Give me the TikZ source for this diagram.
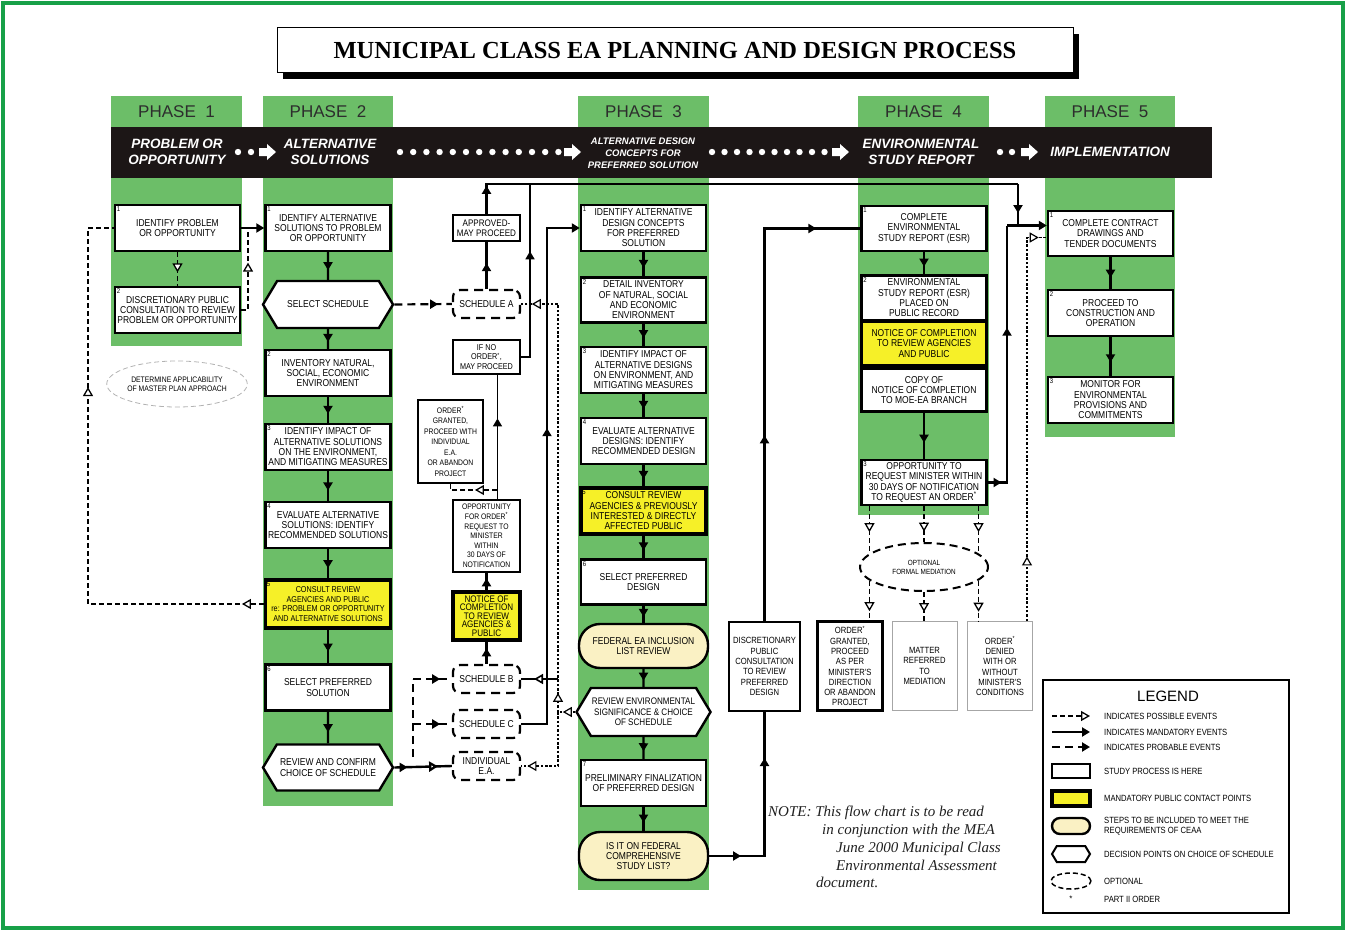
\documentclass[tikz,border=0pt]{standalone}
\usepackage{fontspec}
\setmainfont{Liberation Sans}
\newfontfamily\nfont[FakeStretch=0.85]{Liberation Sans}
\newfontfamily\titleserif{Liberation Serif}
\usepackage{tikz}
\usetikzlibrary{arrows.meta,positioning,calc,decorations.markings,shapes.geometric,shapes.symbols}
\definecolor{phasegreen}{RGB}{108,190,104}
\definecolor{framegreen}{RGB}{24,160,72}
\definecolor{barblack}{RGB}{28,22,22}
\definecolor{mandyellow}{RGB}{246,240,40}
\definecolor{ceaacream}{RGB}{250,241,196}
\definecolor{headgray}{RGB}{45,45,45}
\newcommand{\stepfont}{\nfont\fontsize{10}{10.3}\selectfont}
\newcommand{\smallfont}{\nfont\fontsize{8.5}{9.6}\selectfont}
\newcommand{\tallfont}{\nfont\fontsize{9}{10.3}\selectfont}
\newcommand{\barfont}{\bfseries\itshape\fontsize{13.5}{15.5}\selectfont}
\tikzset{
  stepbox/.style={rectangle,draw=black,fill=white,line width=2.4pt,minimum width=125pt,minimum height=46pt,inner sep=1pt,align=center,font=\stepfont},
  mandbox/.style={stepbox,fill=mandyellow,line width=3.2pt},
  ceaabox/.style={stepbox,fill=ceaacream,rounded corners=21pt,minimum width=129pt},
  decision/.style={shape=signal,signal to=west and east,signal pointer angle=118,draw=black,fill=white,line width=2.4pt,minimum width=130pt,minimum height=47pt,inner sep=1pt,align=center,font=\stepfont},
  smallbox/.style={rectangle,draw=black,fill=white,line width=2.2pt,minimum width=67pt,inner sep=1pt,align=center,font=\smallfont},
  sched/.style={rectangle,draw=black,fill=white,line width=2.2pt,dash pattern=on 9pt off 6pt,rounded corners=7pt,minimum width=67pt,minimum height=28pt,inner sep=1pt,align=center,font=\stepfont},
  tallbox/.style={rectangle,draw=black,fill=white,line width=2.4pt,minimum width=65pt,minimum height=89pt,inner sep=1pt,align=center,font=\tallfont},
  optel/.style={ellipse,draw=black,line width=2pt,dash pattern=on 8pt off 5pt,minimum width=128pt,minimum height=48pt,inner sep=0pt,align=center,font=\nfont\fontsize{7.5}{9}\selectfont},
  planel/.style={ellipse,draw=gray!60,line width=.8pt,dash pattern=on 5pt off 3pt,minimum width=126pt,minimum height=46pt,inner sep=0pt,align=center,font=\nfont\fontsize{8}{9.5}\selectfont},
  stepno/.style={anchor=north west,inner sep=2.8pt,font=\nfont\fontsize{7}{7}\selectfont},
  phasehead/.style={font=\fontsize{17}{17}\selectfont,text=headgray},
  bartext/.style={text=white,font=\barfont,align=center,inner sep=0pt},
  legtext/.style={anchor=west,inner sep=0pt,align=left,font=\nfont\fontsize{9}{10}\selectfont},
  mand/.style={draw=black,line width=2.4pt},
  thinmand/.style={draw=black,line width=1.6pt},
  poss/.style={draw=black,line width=1.3pt,dash pattern=on 5pt off 3pt},
  prob/.style={draw=black,line width=2.2pt,dash pattern=on 8pt off 5pt},
  dotl/.style={draw=black,line width=1.2pt,dash pattern=on 2.5pt off 1.8pt},
  fa/.style={postaction={solid,decorate,decoration={markings,mark=at position #1 with {\arrow{Triangle[length=8pt,width=9pt]}}}}},
  oa/.style={postaction={solid,decorate,decoration={markings,mark=at position #1 with {\arrow{Triangle[open,fill=white,length=9pt,width=10pt]}}}}},
  >={Triangle[length=8pt,width=9pt]}
}
\begin{document}
\begin{tikzpicture}[x=1pt,y=-1pt]
  \useasboundingbox (0,0) rectangle (1346,931);
  \draw[framegreen,line width=4pt] (3,3) rectangle (1343,928);

  % title
  \fill[black] (283,34) rectangle (1079,79);
  \node[draw=black,line width=1pt,fill=white,minimum width=796pt,minimum height=45pt,
        font=\titleserif\bfseries\fontsize{24.5}{25}\selectfont] (title) at (675,50.5)
        {MUNICIPAL CLASS EA PLANNING AND DESIGN PROCESS};

  % phase columns and bar
  \foreach \xa/\xb/\yb [count=\i] in {111/242/346,263/393/806,578/709/890,858/989/515,1045/1175/437}{
    \fill[phasegreen] (\xa,96) rectangle (\xb,\yb);
    \node[phasehead] (ph\i) at ({(\xa+\xb)/2},111.5) {PHASE\ \ \i};
  }
  \fill[barblack] (111,127) rectangle (1212,178);
  \node[bartext] (bar1) at (177,152) {PROBLEM OR\\OPPORTUNITY};
  \node[bartext] (bar2) at (330,152) {ALTERNATIVE\\SOLUTIONS};
  \node[bartext,font=\bfseries\itshape\fontsize{9.5}{12}\selectfont] (bar3) at (643,153)
    {ALTERNATIVE DESIGN\\CONCEPTS FOR\\PREFERRED SOLUTION};
  \node[bartext] (bar4) at (921,152) {ENVIRONMENTAL\\STUDY REPORT};
  \node[bartext] (bar5) at (1110,152) {IMPLEMENTATION};
  \foreach \x in {238,251,1000,1012} \fill[white] (\x,152) circle (3.2pt);
  \foreach \i in {0,...,12} \fill[white] (400+13.2*\i,152) circle (3.2pt);
  \foreach \i in {0,...,9} \fill[white] (712+12.5*\i,152) circle (3.2pt);
  \foreach \x in {259,564,832,1021}
    \fill[white] (\x,148) -- ++(8,0) -- ++(0,-4) -- ++(9,8) -- ++(-9,8) -- ++(0,-4) -- ++(-8,0) -- cycle;

  % phase 1
  \node[stepbox,label={[stepno]north west:1}] (idprob) at (177.5,228) {IDENTIFY PROBLEM\\OR OPPORTUNITY};
  \node[stepbox,label={[stepno]north west:2}] (discpub) at (177.5,310) {DISCRETIONARY PUBLIC\\CONSULTATION TO REVIEW\\PROBLEM OR OPPORTUNITY};
  \node[planel] (masterplan) at (177,384) {DETERMINE APPLICABILITY\\OF MASTER PLAN APPROACH};

  % phase 2
  \node[stepbox,label={[stepno]north west:1}] (idalt) at (328,228) {IDENTIFY ALTERNATIVE\\SOLUTIONS TO PROBLEM\\OR OPPORTUNITY};
  \node[decision] (selsched) at (328,304.5) {SELECT SCHEDULE};
  \node[stepbox,label={[stepno]north west:2}] (inventory) at (328,373) {INVENTORY NATURAL,\\SOCIAL, ECONOMIC\\ENVIRONMENT};
  \node[stepbox,label={[stepno]north west:3}] (impact) at (328,447) {IDENTIFY IMPACT OF\\ALTERNATIVE SOLUTIONS\\ON THE ENVIRONMENT,\\AND MITIGATING MEASURES};
  \node[stepbox,label={[stepno]north west:4}] (evalsol) at (328,525) {EVALUATE ALTERNATIVE\\SOLUTIONS: IDENTIFY\\RECOMMENDED SOLUTIONS};
  \node[mandbox,minimum height=48pt,font=\smallfont,label={[stepno]north west:5}] (consult) at (328,604)
    {CONSULT REVIEW\\AGENCIES AND PUBLIC\\re: PROBLEM OR OPPORTUNITY\\AND ALTERNATIVE SOLUTIONS};
  \node[stepbox,label={[stepno]north west:6}] (prefsol) at (328,687.5) {SELECT PREFERRED\\SOLUTION};
  \node[decision,minimum height=46pt] (confirm) at (328,767.5) {REVIEW AND CONFIRM\\CHOICE OF SCHEDULE};

  % schedules
  \node[smallbox,minimum height=26pt,font=\nfont\fontsize{9.5}{10}\selectfont] (approved) at (486.5,228) {APPROVED-\\MAY PROCEED};
  \node[sched] (schedA) at (486.5,304) {SCHEDULE A};
  \node[smallbox,minimum height=34pt] (ifno) at (486.5,357) {IF NO\\ORDER\textsuperscript{*},\\MAY PROCEED};
  \node[smallbox,minimum width=65pt,minimum height=83pt,font=\nfont\fontsize{8}{10.5}\selectfont] (ordergr) at (450.5,441.5)
    {ORDER\textsuperscript{*}\\GRANTED,\\PROCEED WITH\\INDIVIDUAL\\E.A.\\OR ABANDON\\PROJECT};
  \node[smallbox,minimum height=72pt,font=\nfont\fontsize{8}{9.6}\selectfont] (opport) at (486.5,536)
    {OPPORTUNITY\\FOR ORDER\textsuperscript{*}\\REQUEST TO\\MINISTER\\WITHIN\\30 DAYS OF\\NOTIFICATION};
  \node[mandbox,minimum width=67pt,minimum height=48pt,font=\nfont\fontsize{9.5}{8.6}\selectfont] (notice) at (486.5,616)
    {NOTICE OF\\COMPLETION\\TO REVIEW\\AGENCIES \&\\PUBLIC};
  \node[sched] (schedB) at (486.5,679) {SCHEDULE B};
  \node[sched] (schedC) at (486.5,724) {SCHEDULE C};
  \node[sched] (indiv) at (486.5,766) {INDIVIDUAL\\E.A.};

  % phase 3
  \node[stepbox,label={[stepno]north west:1}] (idcon) at (643.5,228) {IDENTIFY ALTERNATIVE\\DESIGN CONCEPTS\\FOR PREFERRED\\SOLUTION};
  \node[stepbox,minimum height=45pt,label={[stepno]north west:2}] (detinv) at (643.5,300) {DETAIL INVENTORY\\OF NATURAL, SOCIAL\\AND ECONOMIC\\ENVIRONMENT};
  \node[stepbox,label={[stepno]north west:3}] (impdes) at (643.5,370) {IDENTIFY IMPACT OF\\ALTERNATIVE DESIGNS\\ON ENVIRONMENT, AND\\MITIGATING MEASURES};
  \node[stepbox,label={[stepno]north west:4}] (evaldes) at (643.5,441) {EVALUATE ALTERNATIVE\\DESIGNS: IDENTIFY\\RECOMMENDED DESIGN};
  \node[mandbox,label={[stepno]north west:5}] (consdes) at (643.5,511) {CONSULT REVIEW\\AGENCIES \& PREVIOUSLY\\INTERESTED \& DIRECTLY\\AFFECTED PUBLIC};
  \node[stepbox,minimum height=45pt,label={[stepno]north west:6}] (prefdes) at (643.5,582) {SELECT PREFERRED\\DESIGN};
  \node[ceaabox,minimum height=44pt] (fedlist) at (643.5,646) {FEDERAL EA INCLUSION\\LIST REVIEW};
  \node[decision,minimum width=134pt,minimum height=48pt,font=\nfont\fontsize{9.5}{10.3}\selectfont] (revsig) at (643.5,712) {REVIEW ENVIRONMENTAL\\SIGNIFICANCE \& CHOICE\\OF SCHEDULE};
  \node[stepbox,label={[stepno]north west:7}] (prelim) at (643.5,783) {PRELIMINARY FINALIZATION\\OF PREFERRED DESIGN};
  \node[ceaabox,minimum height=48pt] (fedstudy) at (643.5,856) {IS IT ON FEDERAL\\COMPREHENSIVE\\STUDY LIST?};
  \node[tallbox,minimum width=71pt] (discr) at (764.5,666.5) {DISCRETIONARY\\PUBLIC\\CONSULTATION\\TO REVIEW\\PREFERRED\\DESIGN};

  % phase 4
  \node[stepbox,minimum height=45pt,label={[stepno]north west:1}] (esr) at (924,228.5) {COMPLETE\\ENVIRONMENTAL\\STUDY REPORT (ESR)};
  \node[stepbox,minimum height=45pt,label={[stepno]north west:2}] (esrpub) at (924,298) {ENVIRONMENTAL\\STUDY REPORT (ESR)\\PLACED ON\\PUBLIC RECORD};
  \node[mandbox,minimum height=45pt] (notice4) at (924,343.5) {NOTICE OF COMPLETION\\TO REVIEW AGENCIES\\AND PUBLIC};
  \node[stepbox,minimum height=43pt] (copy) at (924,390) {COPY OF\\NOTICE OF COMPLETION\\TO MOE-EA BRANCH};
  \node[stepbox,minimum height=45pt,label={[stepno]north west:3}] (opp4) at (924,482.5)
    {OPPORTUNITY TO\\REQUEST MINISTER WITHIN\\30 DAYS OF NOTIFICATION\\TO REQUEST AN ORDER\textsuperscript{*}};
  \node[optel] (med) at (924,567) {OPTIONAL\\FORMAL MEDIATION};
  \node[tallbox] (ordergr4) at (850,666) {ORDER\textsuperscript{*}\\GRANTED,\\PROCEED\\AS PER\\MINISTER'S\\DIRECTION\\OR ABANDON\\PROJECT};
  \node[tallbox,draw=gray!70,line width=1pt] (matter) at (924.5,666) {MATTER\\REFERRED\\TO\\MEDIATION};
  \node[tallbox,draw=gray!70,line width=1pt] (denied) at (1000,666) {ORDER\textsuperscript{*}\\DENIED\\WITH OR\\WITHOUT\\MINISTER'S\\CONDITIONS};

  % phase 5
  \node[stepbox,minimum height=45pt,label={[stepno]north west:1}] (contract) at (1110.5,233.5) {COMPLETE CONTRACT\\DRAWINGS AND\\TENDER DOCUMENTS};
  \node[stepbox,label={[stepno]north west:2}] (construct) at (1110.5,313) {PROCEED TO\\CONSTRUCTION AND\\OPERATION};
  \node[stepbox,label={[stepno]north west:3}] (monitor) at (1110.5,400) {MONITOR FOR\\ENVIRONMENTAL\\PROVISIONS AND\\COMMITMENTS};

  % junctions
  \coordinate (p1j) at (248,228);
  \coordinate (p1l) at (88,228);
  \coordinate (jtop) at (1018,184);
  \coordinate (jmid) at (1018,225.5);
  \coordinate (jleft) at (1007,225.5);
  \coordinate (jno) at (530,184);
  \coordinate (jo) at (497,490);
  \coordinate (jc) at (547,228);
  \coordinate (dA) at (558,304);
  \coordinate (dB) at (558,679);
  \coordinate (dM) at (558,712);
  \coordinate (dI) at (558,766);
  \coordinate (bB) at (413,679);
  \coordinate (bC) at (413,724);
  \coordinate (bI) at (413,757);
  \coordinate (ca) at ([yshift=8pt]contract.west);
  \coordinate (cb) at ([yshift=-4pt]contract.west);

  % phase 1 links
  \draw[poss,oa=0.6] (idprob) -- (discpub);
  \draw[poss,oa=0.61] (discpub.east) -| (p1j);
  \draw[mand,->] (idprob.east) -- (idalt.west);
  \draw[poss,oa=0.038,oa=0.68] (consult.west) -| (p1l) -- (idprob.west);

  % column links
  \foreach \a/\b in {idalt/selsched,selsched/inventory,inventory/impact,impact/evalsol,evalsol/consult,consult/prefsol,prefsol/confirm,
      idcon/detinv,detinv/impdes,impdes/evaldes,evaldes/consdes,consdes/prefdes,prefdes/fedlist,fedlist/revsig,revsig/prelim,prelim/fedstudy,
      esr/esrpub,copy/opp4,contract/construct,construct/monitor}
    \draw[mand,fa=0.65] (\a) -- (\b);

  % schedules
  \draw[prob,fa=0.76] (selsched.east) -- (schedA.west);
  \draw[mand,fa=0.55] (schedA) -- (approved);
  \draw[mand,fa=0.05] (approved.north) |- (jtop);
  \draw[mand,fa=0.7] (jtop) -- (jmid);
  \draw[mand,->] (jleft) -- (ca);
  \draw[thinmand,fa=0.63] (ifno.east) -| (jno);
  \draw[thinmand,fa=0.65] ([xshift=11pt]opport.north) -- ([xshift=11pt]ifno.south);
  \draw[poss,oa=0.42] (jo) -| (ordergr.south);
  \draw[mand,fa=0.7] (notice) -- (opport);
  \draw[mand,fa=0.7] (schedB) -- (notice);
  \draw[mand,fa=0.58,->] (schedC.east) -| (jc) -- (idcon.west);
  \draw[dotl,oa=0.72] (revsig.west) -- (dM);
  \draw[dotl,oa=0.043,oa=0.976] (dM) -- (dA) -- (schedA.east);
  \draw[dotl,oa=0.93] (dM) -- (dI) -- (indiv.east);
  \draw[thinmand,oa=0.65] (dB) -- (schedB.east);
  \draw[mand,fa=0.23,oa=0.76] (confirm.east) -- (indiv.west);
  \draw[prob] (bI) -- (bB);
  \draw[prob,fa=0.7] (bB) -- (schedB.west);
  \draw[prob,fa=0.7] (bC) -- (schedC.west);

  % phase 3 to 4
  \draw[mand,fa=0.16,fa=0.77] (fedstudy.east) -| (discr.south);
  \draw[mand,fa=0.38,fa=0.91] (discr.north) |- (esr.west);

  % phase 4 to 5
  \draw[mand,fa=0.05,fa=0.63] (opp4.east) -| (jleft);
  \draw[poss,oa=0.55] (med.166 |- opp4.south) -- (med.166);
  \draw[poss,oa=0.71] (opp4.south) -- (med.north);
  \draw[poss,oa=0.55] (med.14 |- opp4.south) -- (med.14);
  \draw[poss,oa=0.77] (med.194) -- (med.194 |- ordergr4.north);
  \draw[poss,oa=0.69] (med.south) -- (med.south |- matter.north);
  \draw[poss,oa=0.77] (med.346) -- (med.346 |- denied.north);
  \draw[dotl,oa=0.16,oa=0.98] ([xshift=27pt]denied.north) |- (cb);

  % note
  \node[anchor=north west,align=left,inner sep=0pt,text=gray!25!black,
        font=\titleserif\itshape\fontsize{15}{17.8}\selectfont] (note) at (768,806)
    {NOTE: This flow chart is to be read\\\hspace*{54pt}in conjunction with the MEA\\\hspace*{68pt}June 2000 Municipal Class\\\hspace*{68pt}Environmental Assessment\\\hspace*{48pt}document.};

  % legend
  \draw[line width=2pt] (1043,680) rectangle (1289,913);
  \node[font=\fontsize{15}{15}\selectfont] (legtitle) at (1168,696) {LEGEND};
  \coordinate (lg1a) at (1052,716); \coordinate (lg1b) at (1090,716);
  \coordinate (lg2a) at (1052,732); \coordinate (lg2b) at (1090,732);
  \coordinate (lg3a) at (1052,747); \coordinate (lg3b) at (1090,747);
  \draw[poss,-{Triangle[open,fill=white,length=9pt,width=10pt]}] (lg1a) -- (lg1b);
  \draw[mand,->] (lg2a) -- (lg2b);
  \draw[prob,->] (lg3a) -- (lg3b);
  \node[stepbox,minimum width=38pt,minimum height=14pt,inner sep=0pt] (lgstudy) at (1071,771) {};
  \node[mandbox,minimum width=38pt,minimum height=15pt,inner sep=0pt] (lgmand) at (1071,798.5) {};
  \node[ceaabox,minimum width=38pt,minimum height=16pt,inner sep=0pt,rounded corners=8pt] (lgceaa) at (1071,826) {};
  \node[decision,minimum width=38pt,minimum height=16pt,inner sep=0pt,line width=2pt] (lgdec) at (1071,854) {};
  \node[optel,minimum width=40pt,minimum height=16pt,line width=1.5pt,dash pattern=on 5pt off 3pt] (lgopt) at (1071,881) {};
  \node[font=\fontsize{8}{8}\selectfont] (lgstar) at (1071,899) {*};
  \node[legtext] (lt1) at (1104,716) {INDICATES POSSIBLE EVENTS};
  \node[legtext] (lt2) at (1104,732) {INDICATES MANDATORY EVENTS};
  \node[legtext] (lt3) at (1104,747) {INDICATES PROBABLE EVENTS};
  \node[legtext] (lt4) at (1104,771) {STUDY PROCESS IS HERE};
  \node[legtext] (lt5) at (1104,798.5) {MANDATORY PUBLIC CONTACT POINTS};
  \node[legtext] (lt6) at (1104,826) {STEPS TO BE INCLUDED TO MEET THE\\REQUIREMENTS OF CEAA};
  \node[legtext] (lt7) at (1104,854) {DECISION POINTS ON CHOICE OF SCHEDULE};
  \node[legtext] (lt8) at (1104,881) {OPTIONAL};
  \node[legtext] (lt9) at (1104,899) {PART II ORDER};
\end{tikzpicture}
\end{document}
